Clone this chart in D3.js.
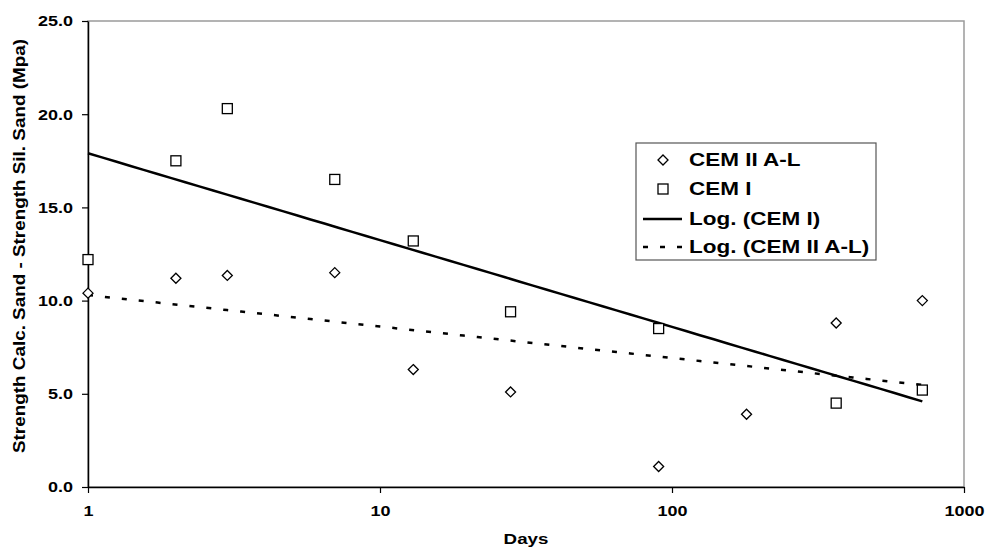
<!DOCTYPE html>
<html>
<head>
<meta charset="utf-8">
<script src="https://cdn.jsdelivr.net/npm/d3@7"></script>
<style>
  body { margin: 0; background: #fff; }
  text { font-family: "Liberation Sans", Arial, sans-serif; font-weight: bold; fill: #000; }
</style>
</head>
<body>
<script>
// data
var daysCemII = [1, 2, 3, 7, 13, 28, 90, 180, 365, 720];
var valCemII  = [10.4, 11.2, 11.35, 11.5, 6.3, 5.1, 1.1, 3.9, 8.8, 10.0];
var daysCemI  = [1, 2, 3, 7, 13, 28, 90, 365, 720];
var valCemI   = [12.2, 17.5, 20.3, 16.5, 13.2, 9.4, 8.5, 4.5, 5.2];
var xTicks = [1, 10, 100, 1000];
var yTicks = [0, 5, 10, 15, 20, 25];
var legendLabels = ["CEM II A-L", "CEM I", "Log. (CEM I)", "Log. (CEM II A-L)"];

var W = 985, H = 549,
    margin = {top: 21, right: 21, bottom: 62, left: 88},
    width = W - margin.left - margin.right,
    height = H - margin.top - margin.bottom,
    stretch = 1.2;   // the original text is a bit wider than plain Arial

var svg = d3.select("body").append("svg").attr("width", W).attr("height", H);
var g = svg.append("g").attr("transform", "translate(" + margin.left + "," + margin.top + ")");

var x = d3.scaleLog().domain([1, 1000]).range([0, width]);
var y = d3.scaleLinear().domain([0, 25]).range([height, 0]);

// plot border (top/right grey)
g.append("rect").attr("width", width).attr("height", height)
  .attr("fill", "none").attr("stroke", "#9a9a9a").attr("stroke-width", 1.5);

// log trend  y = a + b ln(x), least squares
function logFit(xs, ys) {
  var lx = xs.map(Math.log);
  var mx = d3.mean(lx), my = d3.mean(ys);
  var sxy = d3.sum(lx, function(v, i){ return (v - mx) * (ys[i] - my); });
  var sxx = d3.sum(lx, function(v){ return (v - mx) * (v - mx); });
  var b = sxy / sxx;
  return {a: my - b * mx, b: b};
}
function trendPts(xs, ys) {
  var f = logFit(xs, ys), lo = d3.min(xs), hi = d3.max(xs), pts = [];
  for (var i = 0; i <= 60; i++) {
    var d = lo * Math.pow(hi / lo, i / 60);
    pts.push([d, f.a + f.b * Math.log(d)]);
  }
  return pts;
}
var line = d3.line().x(function(d){ return x(d[0]); }).y(function(d){ return y(d[1]); });

g.append("path").datum(trendPts(daysCemII, valCemII))
  .attr("d", line).attr("fill", "none").attr("stroke", "#000")
  .attr("stroke-width", 2.5).attr("stroke-dasharray", "5,12");
g.append("path").datum(trendPts(daysCemI, valCemI))
  .attr("d", line).attr("fill", "none").attr("stroke", "#000").attr("stroke-width", 2.5);

// axes
var yAxis = g.append("g").call(d3.axisLeft(y).tickValues(yTicks).tickSize(6).tickSizeOuter(0)
  .tickFormat(d3.format(".1f")));
var xAxis = g.append("g").attr("transform", "translate(0," + height + ")")
  .call(d3.axisBottom(x).tickValues(xTicks).tickSize(6).tickSizeOuter(0).tickFormat(d3.format("d")));
[yAxis, xAxis].forEach(function(a){
  a.select(".domain").attr("stroke", "#000").attr("stroke-width", 1.5);
  a.selectAll(".tick line").attr("stroke", "#000").attr("stroke-width", 1.2);
  a.selectAll("text").style("font-size", "15px").style("font-family", "Liberation Sans, Arial, sans-serif").style("font-weight", "bold");
});
yAxis.selectAll("text").attr("x", 0)
  .attr("transform", "translate(-15,0) scale(" + stretch + ",1)");
xAxis.selectAll("text").attr("y", 18)
  .attr("transform", "scale(" + stretch + ",1)");

// markers
var diamond = d3.symbol().type(d3.symbolDiamond2).size(64);
g.selectAll(".dia").data(daysCemII).enter().append("path")
  .attr("d", diamond)
  .attr("transform", function(d, i){ return "translate(" + x(d) + "," + y(valCemII[i]) + ")"; })
  .attr("fill", "#fff").attr("stroke", "#000").attr("stroke-width", 1.3);
g.selectAll(".sq").data(daysCemI).enter().append("rect")
  .attr("x", function(d){ return x(d) - 5; })
  .attr("y", function(d, i){ return y(valCemI[i]) - 5; })
  .attr("width", 10).attr("height", 10)
  .attr("fill", "#fff").attr("stroke", "#000").attr("stroke-width", 1.3);

// axis titles
svg.append("text").attr("transform", "translate(" + (margin.left + width / 2) + ",544) scale(1.25,1)")
  .attr("text-anchor", "middle").style("font-size", "15px").text("Days");
svg.append("text").attr("transform", "translate(25,246) rotate(-90) scale(1.18,1)")
  .attr("text-anchor", "middle").style("font-size", "16px")
  .text("Strength Calc. Sand - Strength Sil. Sand (Mpa)");

// legend
var lg = svg.append("g").attr("transform", "translate(636,143)");
lg.append("rect").attr("width", 240).attr("height", 117)
  .attr("fill", "#fff").attr("stroke", "#555").attr("stroke-width", 1.2);
var rowY = [17, 46, 76, 104];
legendLabels.forEach(function(lbl, i){
  lg.append("text").attr("transform", "translate(53," + rowY[i] + ") scale(1.25,1)")
    .attr("dy", "0.36em").style("font-size", "18px").text(lbl);
});
lg.append("path").attr("d", diamond).attr("transform", "translate(27," + rowY[0] + ")")
  .attr("fill", "#fff").attr("stroke", "#000").attr("stroke-width", 1.3);
lg.append("rect").attr("x", 22).attr("y", rowY[1] - 5).attr("width", 10).attr("height", 10)
  .attr("fill", "#fff").attr("stroke", "#000").attr("stroke-width", 1.3);
lg.append("line").attr("x1", 7).attr("x2", 46).attr("y1", rowY[2]).attr("y2", rowY[2])
  .attr("stroke", "#000").attr("stroke-width", 2.5);
lg.append("line").attr("x1", 7).attr("x2", 46).attr("y1", rowY[3]).attr("y2", rowY[3])
  .attr("stroke", "#000").attr("stroke-width", 2.5).attr("stroke-dasharray", "5,12");
</script>
</body>
</html>
